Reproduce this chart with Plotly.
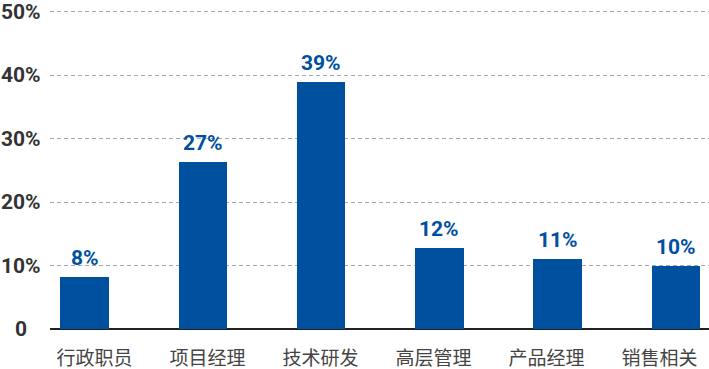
import plotly.graph_objects as go

categories = ["行政职员", "项目经理", "技术研发", "高层管理", "产品经理", "销售相关"]
values = [8.2, 26.3, 38.9, 12.7, 11.0, 10.0]
value_labels = ["8%", "27%", "39%", "12%", "11%", "10%"]
y_tickvals = [0, 10, 20, 30, 40, 50]
y_ticktext = ["0", "10%", "20%", "30%", "40%", "50%"]

blue = "#0050a0"
idx = list(range(len(categories)))

fig = go.Figure()
fig.add_trace(go.Bar(
    x=idx,
    y=values,
    width=0.41,
    marker=dict(color=blue, line=dict(width=0)),
    hoverinfo="skip",
))
# invisible trace carrying the category labels (evenly spread label axis)
fig.add_trace(go.Scatter(
    x=idx, y=[0] * len(idx), xaxis="x2", mode="markers",
    marker=dict(opacity=0), hoverinfo="skip", showlegend=False,
))

for i, (v, t) in enumerate(zip(values, value_labels)):
    fig.add_annotation(
        x=i, y=v, text=t, showarrow=False,
        yanchor="bottom", yshift=5,
        font=dict(family="Roboto", size=21, color=blue, weight="bold"),
    )

# centred y tick labels
for v, t in zip(y_tickvals, y_ticktext):
    fig.add_annotation(
        x=-0.044, xref="paper", y=v, yref="y", text=t, showarrow=False,
        xanchor="center", yanchor="middle",
        font=dict(family="Roboto", size=21, color="#333333", weight="bold"),
    )

fig.update_layout(
    width=709, height=369,
    margin=dict(l=50, r=0, t=10, b=39.5),
    paper_bgcolor="white", plot_bgcolor="white",
    showlegend=False,
    bargap=0,
    xaxis=dict(
        range=[-0.292, 5.279],
        tickvals=idx,
        showticklabels=False,
        showgrid=False, zeroline=False, showline=False,
        ticks="", automargin=False,
        fixedrange=True,
    ),
    xaxis2=dict(
        range=[-0.394, 5.438],
        overlaying="x", side="bottom",
        tickvals=idx,
        ticktext=categories,
        showgrid=False, zeroline=False, showline=False,
        ticks="", ticklabelstandoff=16, automargin=False,
        tickfont=dict(family="Noto Sans CJK SC", size=19, color="#444444"),
        fixedrange=True,
    ),
    yaxis=dict(
        range=[0, 50.3],
        tickvals=y_tickvals,
        showticklabels=False,
        showgrid=True, gridcolor="#a8a8a8", griddash="4px,3px", gridwidth=1,
        zeroline=True, zerolinecolor="#222222", zerolinewidth=1.5,
        showline=False, ticks="", automargin=False,
        fixedrange=True,
    ),
)

fig.write_html(
    "out.html",
    config={"displayModeBar": False},
    post_script="document.body.style.margin='0';document.body.style.overflow='hidden';",
)
